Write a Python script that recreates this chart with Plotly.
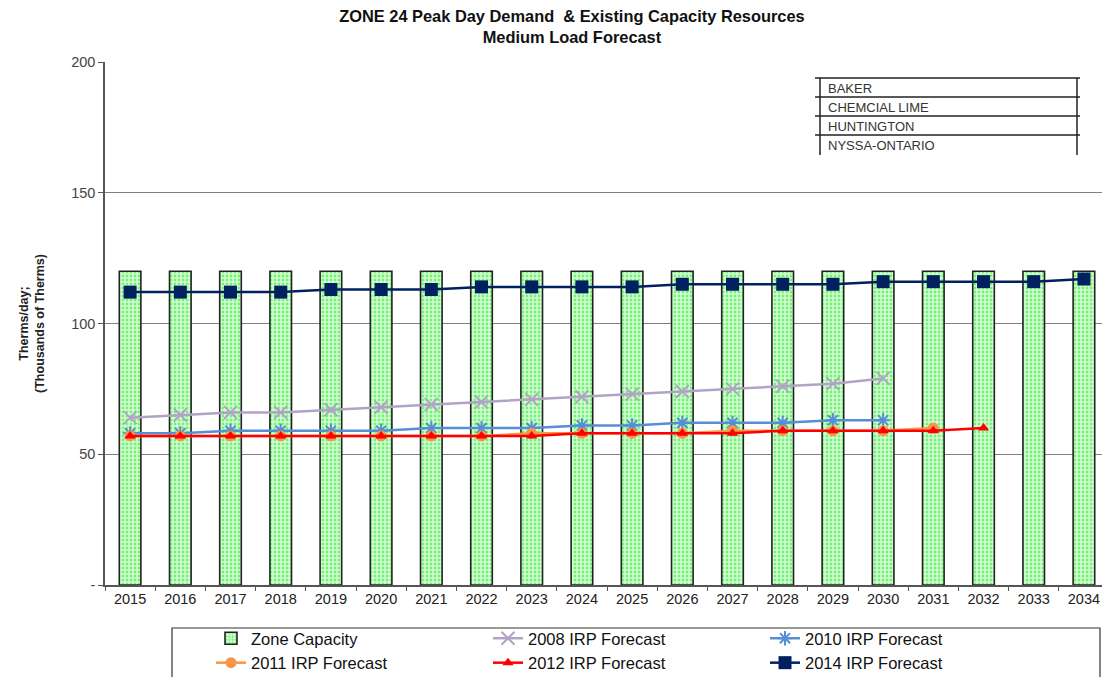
import plotly.graph_objects as go

years = [str(y) for y in range(2015, 2035)]
zone_capacity = [120] * 20
irp_2008 = [64, 65, 66, 66, 67, 68, 69, 70, 71, 72, 73, 74, 75, 76, 77, 79]
irp_2010 = [58, 58, 59, 59, 59, 59, 60, 60, 60, 61, 61, 62, 62, 62, 63, 63]
irp_2011 = [57, 57, 57, 57, 57, 57, 57, 57, 58, 58, 58, 58, 59, 59, 59, 59, 60]
irp_2012 = [57, 57, 57, 57, 57, 57, 57, 57, 57, 58, 58, 58, 58, 59, 59, 59, 59, 60]
irp_2014 = [112, 112, 112, 112, 113, 113, 113, 114, 114, 114, 114, 115, 115, 115, 115, 116, 116, 116, 116, 117]
areas = ["BAKER", "CHEMCIAL LIME", "HUNTINGTON", "NYSSA-ONTARIO"]

FONT = "Liberation Sans, Arial, sans-serif"

fig = go.Figure()
fig.add_trace(go.Bar(
    x=years, y=zone_capacity, name="Zone Capacity", width=0.43,
    marker=dict(color="#CFFFCF", line=dict(color="#222222", width=1.6),
                pattern=dict(shape=".", fgcolor="#22DD22", bgcolor="#D2FFD2", size=4, solidity=0.4)),
))

lines = [
    ("2008 IRP Forecast", irp_2008, "#B3A2C7", dict(symbol="x-thin-open", size=13, line=dict(width=2, color="#B3A2C7"))),
    ("2010 IRP Forecast", irp_2010, "#558ED5", dict(symbol="asterisk-open", size=12, line=dict(width=2, color="#558ED5"))),
    ("2011 IRP Forecast", irp_2011, "#F79646", dict(symbol="circle", size=11, color="#F79646")),
    ("2012 IRP Forecast", irp_2012, "#FF0000", dict(symbol="triangle-up", size=10, color="#FF0000")),
    ("2014 IRP Forecast", irp_2014, "#002060", dict(symbol="square", size=13, color="#002060")),
]
for name, vals, col, mk in lines:
    fig.add_trace(go.Scatter(
        x=years[:len(vals)], y=vals, name=name, mode="lines+markers",
        line=dict(color=col, width=2.5), marker=mk,
    ))

# page pixel -> paper helpers (plot area spans 105..1102 x 62..585 on the page)
def px_x(p):
    return (p - 105) / 997

def px_y(p):
    return (585 - p) / 523

shapes = []
for yy in [78, 97, 116, 135]:
    shapes.append(dict(type="line", xref="paper", yref="paper", x0=px_x(815), x1=px_x(1080),
                       y0=px_y(yy), y1=px_y(yy), line=dict(color="#222222", width=1.5)))
for xx in [820, 1077]:
    shapes.append(dict(type="line", xref="paper", yref="paper", x0=px_x(xx), x1=px_x(xx),
                       y0=px_y(78), y1=px_y(155), line=dict(color="#222222", width=1.5)))
# legend frame
shapes.append(dict(type="rect", xref="paper", yref="paper", x0=px_x(172), x1=px_x(1100),
                   y0=px_y(628), y1=px_y(700), line=dict(color="#333333", width=1.2)))

annotations = []
for i, a in enumerate(areas):
    annotations.append(dict(text=a, xref="paper", yref="paper", x=px_x(826), y=px_y(88 + 19 * i),
                            xanchor="left", yanchor="middle", showarrow=False,
                            font=dict(family=FONT, size=13, color="#333333")))

# page has an 8px body margin, the div is clipped at the window width
fig.update_layout(
    width=1094, height=669,
    paper_bgcolor="white", plot_bgcolor="white",
    margin=dict(l=97, r=0, t=54, b=92, autoexpand=False),
    font=dict(family=FONT, size=13, color="#222222"),
    title=dict(text="<b>ZONE 24 Peak Day Demand  & Existing Capacity Resources<br>Medium Load Forecast</b>",
               x=0.5155, xanchor="center", y=0.979, yanchor="top",
               font=dict(family=FONT, size=16.4, color="#111111")),
    showlegend=True,
    legend=dict(orientation="h", x=px_x(211), xanchor="left", y=px_y(621), yanchor="top",
                borderwidth=0, entrywidth=232, bgcolor="rgba(0,0,0,0)",
                font=dict(family=FONT, size=16.5, color="#111111"), traceorder="normal"),
    shapes=shapes,
    annotations=annotations,
)
# the source chart runs on past the right edge, so the last category is partly cut
fig.update_xaxes(type="category", range=[-0.5, 19.36], showline=True,
                 linecolor="#555555", linewidth=1.5,
                 ticks="outside", tickson="boundaries", ticklen=4, tickcolor="#555555",
                 tickfont=dict(family=FONT, size=14.5, color="#222222"), showgrid=False)
fig.update_yaxes(range=[0, 200], tickvals=[0, 50, 100, 150, 200], ticktext=["-", "50", "100", "150", "200"],
                 showline=True, linecolor="#555555", linewidth=1.5, ticks="outside", ticklen=5,
                 tickcolor="#555555", showgrid=True, gridcolor="#808080", gridwidth=1.2,
                 tickfont=dict(family=FONT, size=14.5, color="#444444"),
                 title=dict(text="<b>Therms/day;<br>(Thousands of Therms)</b>", standoff=24,
                            font=dict(family=FONT, size=12.5, color="#222222")))

fig.write_html("out.html")
